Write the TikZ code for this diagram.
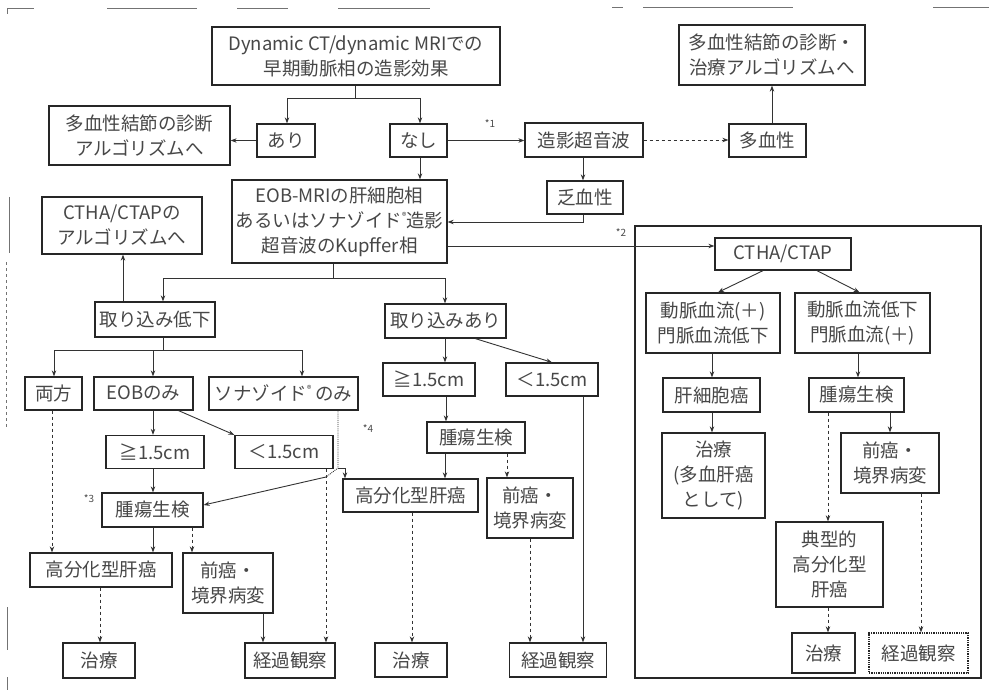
\documentclass[tikz,border=0pt]{standalone}
\usepackage{fontspec}
\setmainfont{Noto Sans CJK JP}
\usetikzlibrary{arrows.meta}
\newcommand{\regmk}{\raisebox{0.8ex}{\fontsize{9}{9}\selectfont ®}}
\begin{document}
\begin{tikzpicture}[x=1pt,y=-1pt,
  box/.style={draw=black!85, line width=1.3pt, align=center, inner sep=1pt,
    font=\fontsize{18.5}{25}\selectfont, text=black!72},
  bx/.style 2 args={minimum width=#1pt, minimum height=#2pt},
  arr/.style={-{Stealth[length=6pt,width=4.5pt]}, line width=0.9pt, draw=black!80},
  ln/.style={line width=0.9pt, draw=black!80},
  lab/.style={font=\fontsize{10}{11}\selectfont, text=black!70, inner sep=0pt},
  scan/.style={line width=0.8pt, draw=black!55}]
\useasboundingbox (0,0) rectangle (989,690);
\fill[white] (0,0) rectangle (989,690);

% scanned outer frame fragments
\draw[scan] (7,14) -- (7,8) -- (34,8);
\draw[scan] (107,8) -- (197,8);
\draw[scan] (237,8) -- (288,8);
\draw[scan] (338,8) -- (430,8);
\draw[scan] (612,7) -- (623,7);
\draw[scan] (643,7) -- (793,7);
\draw[scan] (933,7) -- (989,7);
\draw[scan] (9,197) -- (9,253);
\draw[scan,dashed] (6,262) -- (6,427);
\draw[scan] (7,607) -- (7,650);
\draw[scan] (7,677) -- (7,690);

% right frame
\draw[line width=1.3pt, draw=black!85] (635,226) rectangle (981,678);

% nodes
\node[box,bx={288}{58}] (dyn) at (356,56) {Dynamic CT/dynamic MRIでの\\早期動脈相の造影効果};
\node[box,bx={186}{60}] (multR) at (772,55) {多血性結節の診断・\\治療アルゴリズムへ};
\node[box,bx={181}{59}] (multL) at (139.5,135.5) {多血性結節の診断\\アルゴリズムへ};
\node[box,bx={58}{33}] (ari) at (286,140.5) {あり};
\node[box,bx={57}{33}] (nashi) at (418.5,140.5) {なし};
\node[box,bx={118}{34}] (ceus) at (584,140) {造影超音波};
\node[box,bx={77}{33}] (tak) at (767.5,140.5) {多血性};
\node[box,bx={76}{33}] (bou) at (585,197.5) {乏血性};
\node[box,bx={215}{83}] (eob) at (339.5,221.5) {EOB-MRIの肝細胞相\\あるいはソナゾイド\regmk 造影\\超音波のKupffer相};
\node[box,bx={160}{57}] (ctalg) at (122,225.5) {CTHA/CTAPの\\アルゴリズムへ};
\node[box,bx={120}{35}] (teika) at (155,319.5) {取り込み低下};
\node[box,bx={121}{34}] (ari2) at (445.5,321) {取り込みあり};
\node[box,bx={57}{33}] (ryou) at (53.5,393.5) {両方};
\node[box,bx={99}{33}] (eobonly) at (143.5,393.5) {EOBのみ};
\node[box,bx={149}{33}] (sonaonly) at (283.5,393.5) {ソナゾイド\regmk\ のみ};
\node[box,bx={98}{33}] (geL) at (155,452) {≧1.5cm};
\node[box,bx={98}{33}] (ltL) at (284,452) {＜1.5cm};
\node[box,bx={92}{33}] (geM) at (429,379.5) {≧1.5cm};
\node[box,bx={92}{33}] (ltM) at (552,379.5) {＜1.5cm};
\node[box,bx={98}{31}] (bioM) at (476,437.5) {腫瘍生検};
\node[box,bx={101}{34}] (bioL) at (152.5,510) {腫瘍生検};
\node[box,bx={142}{34}] (wdL) at (101,570) {高分化型肝癌};
\node[box,bx={90}{60}] (preL) at (228,583) {前癌・\\境界病変};
\node[box,bx={72}{35}] (txL) at (99,660.5) {治療};
\node[box,bx={90}{35}] (obsL) at (290,660.5) {経過観察};
\node[box,bx={135}{33}] (wdM) at (410.5,495.5) {高分化型肝癌};
\node[box,bx={86}{60}] (preM) at (530,508) {前癌・\\境界病変};
\node[box,bx={72}{34}] (txM) at (411,660) {治療};
\node[box,bx={97}{34}] (obsM) at (558,660) {経過観察};
\node[box,bx={136}{32}] (cthaR) at (783,254) {CTHA/CTAP};
\node[box,bx={134}{60}] (artP) at (713,323) {動脈血流(＋)\\門脈血流低下};
\node[box,bx={135}{60}] (artL) at (862.5,323) {動脈血流低下\\門脈血流(＋)};
\node[box,bx={97}{34}] (hcc) at (711.5,395) {肝細胞癌};
\node[box,bx={95}{34}] (bioR) at (856.5,395) {腫瘍生検};
\node[box,bx={103}{85}] (txR1) at (713.5,475.5) {治療\\(多血肝癌\\として)};
\node[box,bx={98}{60}] (preR) at (890,463) {前癌・\\境界病変};
\node[box,bx={107}{85}] (typ) at (829.5,564.5) {典型的\\高分化型\\肝癌};
\node[box,bx={63}{40}] (txR2) at (823.5,653) {治療};
\node[box,bx={99}{40},densely dotted] (obsR) at (918.5,653) {経過観察};

% labels
\node[lab] at (490,124) {*1};
\node[lab] at (621,233) {*2};
\node[lab] at (89,499) {*3};
\node[lab] at (368,429) {*4};

% top connectors
\draw[ln] (355,0 |- dyn.south) -- (355,98);
\draw[ln] (287,98) -- (420,98);
\draw[arr] (287,98) -- (287,0 |- ari.north);
\draw[arr] (420,98) -- (420,0 |- nashi.north);
\draw[arr] (ari.west) -- (ari.west -| multL.east);
\draw[arr] (nashi.east) -- (nashi.east -| ceus.west);
\draw[arr,dashed] (ceus.east) -- (ceus.east -| tak.west);
\draw[arr] (772,0 |- tak.north) -- (772,0 |- multR.south);
\draw[arr] (583,0 |- ceus.south) -- (583,0 |- bou.north);
\draw[arr] (583,0 |- bou.south) -- (583,222) -- (583,222 -| eob.east);
\draw[arr] (420,0 |- nashi.south) -- (420,0 |- eob.north);
\draw[arr] (eob.east |- 0,246) -- (cthaR.west |- 0,246);

% EOB branches
\draw[ln] (333,0 |- eob.south) -- (333,278);
\draw[ln] (163,278) -- (445,278);
\draw[arr] (163,278) -- (163,0 |- teika.north);
\draw[arr] (445,278) -- (445,0 |- ari2.north);
\draw[arr] (123,0 |- teika.north) -- (123,0 |- ctalg.south);
\draw[ln] (163,0 |- teika.south) -- (163,350);
\draw[ln] (54,350) -- (302,350);
\draw[arr] (54,350) -- (54,0 |- ryou.north);
\draw[arr] (153,350) -- (153,0 |- eobonly.north);
\draw[arr] (302,350) -- (302,0 |- sonaonly.north);

% left column
\draw[arr] (153,0 |- eobonly.south) -- (153,0 |- geL.north);
\draw[arr] ([xshift=-15pt]eobonly.south east) -- (ltL.north west);
\draw[arr] (153,0 |- geL.south) -- (153,0 |- bioL.north);
\coordinate (J) at (326,477);
\draw[arr,dashed] (326,0 |- ltL.south) -- (326,0 |- obsL.north);
\draw[arr] (J) -- ([yshift=5pt]bioL.east);
\draw[ln,densely dotted] (338,0 |- sonaonly.south) -- (338,468) -- (J);
\draw[arr] (338,468) -| (345,0 |- wdM.north);
\draw[arr,dashed] (52,0 |- ryou.south) -- (52,0 |- wdL.north);
\draw[arr] (153,0 |- bioL.south) -- (153,0 |- wdL.north);
\draw[arr,dashed] (192,0 |- bioL.south) -- (192,0 |- preL.north);
\draw[arr,dashed] (100,0 |- wdL.south) -- (100,0 |- txL.north);
\draw[arr] (263,0 |- preL.south) -- (263,0 |- obsL.north);

% middle column
\draw[arr] (445,0 |- ari2.south) -- (445,0 |- geM.north);
\draw[arr] ([xshift=30pt]ari2.south) -- (ltM.north);
\draw[arr] (446,0 |- geM.south) -- (446,0 |- bioM.north);
\draw[arr] (445,0 |- bioM.south) -- (445,0 |- wdM.north);
\draw[arr,dashed] (507,0 |- bioM.south) -- (507,0 |- preM.north);
\draw[arr] (583,0 |- ltM.south) -- (583,0 |- obsM.north);
\draw[arr,dashed] (412,0 |- wdM.south) -- (412,0 |- txM.north);
\draw[arr,dashed] (530,0 |- preM.south) -- (530,0 |- obsM.north);

% right frame
\draw[arr] ([xshift=-20pt]cthaR.south) -- ([xshift=5pt]artP.north);
\draw[arr] ([xshift=34pt]cthaR.south) -- ([xshift=-3pt]artL.north);
\draw[arr] (712,0 |- artP.south) -- (712,0 |- hcc.north);
\draw[arr] (712,0 |- hcc.south) -- (712,0 |- txR1.north);
\draw[arr] (858,0 |- artL.south) -- (858,0 |- bioR.north);
\draw[arr] (890,0 |- bioR.south) -- (890,0 |- preR.north);
\draw[arr,dashed] (828,0 |- bioR.south) -- (828,0 |- typ.north);
\draw[arr,dashed] (828,0 |- typ.south) -- (828,0 |- txR2.north);
\draw[arr,dashed] (921,0 |- preR.south) -- (921,0 |- obsR.north);
\end{tikzpicture}
\end{document}
